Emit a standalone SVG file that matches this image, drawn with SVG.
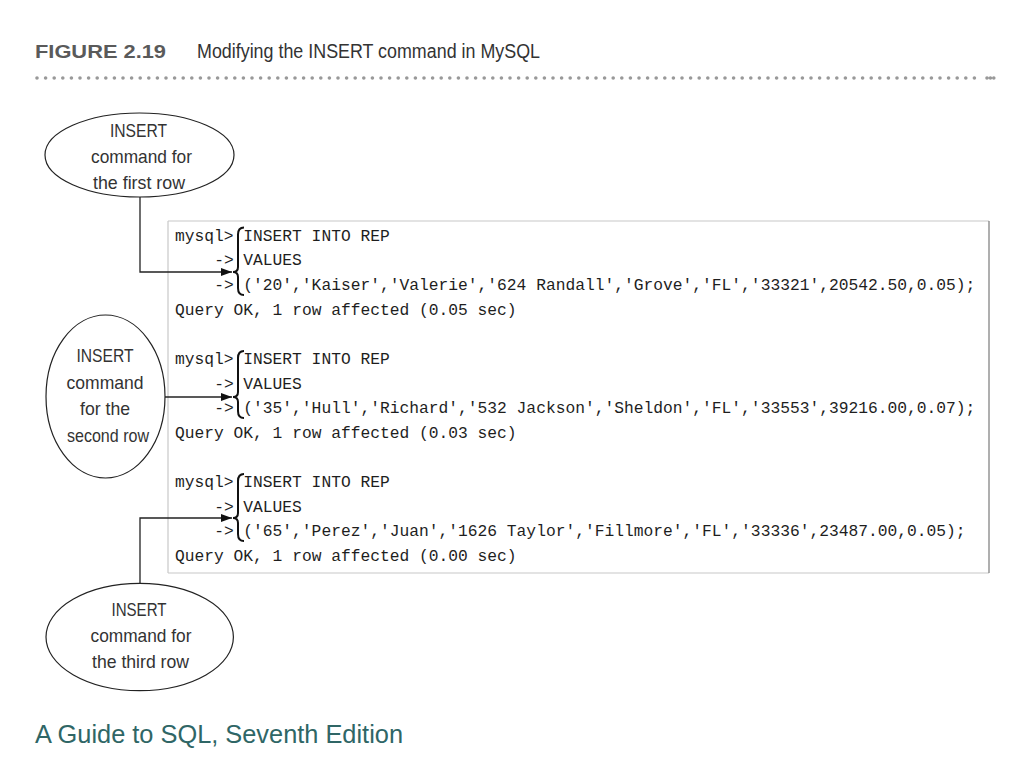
<svg xmlns="http://www.w3.org/2000/svg" width="1024" height="768" viewBox="0 0 1024 768">
<style>
.code{font-family:"Liberation Mono","Courier New",monospace;font-size:16.27px;fill:#1e1e1e}
.lbl{font-family:"Liberation Sans",Arial,sans-serif;font-size:18.5px;fill:#333;text-anchor:middle}
.ell{fill:#fff;stroke:#222;stroke-width:1.2}
.conn{fill:none;stroke:#222;stroke-width:1.3}
.brace{fill:none;stroke:#111;stroke-width:2}
</style>
<defs>
<marker id="ah" markerWidth="11" markerHeight="8" refX="11" refY="4" orient="auto" markerUnits="userSpaceOnUse">
<path d="M0,0 L11,4 L0,8 z" fill="#111"/>
</marker>
</defs>
<rect width="1024" height="768" fill="#fff"/>

<g id="title">
<text x="35" y="58" font-family="Liberation Sans,Arial,sans-serif" font-weight="bold" font-size="18" fill="#5a5a5a" textLength="131" lengthAdjust="spacingAndGlyphs">FIGURE 2.19</text>
<text x="197" y="58" font-family="Liberation Sans,Arial,sans-serif" font-size="19.5" fill="#333" textLength="343" lengthAdjust="spacingAndGlyphs">Modifying the INSERT command in MySQL</text>
<line x1="37" y1="78" x2="983" y2="78" stroke="#999" stroke-width="3.6" stroke-linecap="round" stroke-dasharray="0 8.6"/>
<line x1="987" y1="78" x2="997" y2="78" stroke="#999" stroke-width="3.6" stroke-linecap="round" stroke-dasharray="0 3.4"/>
</g>

<g id="console">
<line x1="168" y1="221" x2="989" y2="221" stroke="#c8c8c8" stroke-width="1.2"/>
<line x1="168" y1="221" x2="168" y2="573" stroke="#c8c8c8" stroke-width="1.2"/>
<line x1="168" y1="573" x2="989" y2="573" stroke="#c8c8c8" stroke-width="1.2"/>
<line x1="989" y1="221" x2="989" y2="573" stroke="#7a7a7a" stroke-width="1.2"/>

<text class="code" x="175" y="240.5">mysql&gt;</text>
<text class="code" x="243.3" y="240.5">INSERT INTO REP</text>
<text class="code" x="214.3" y="265">-&gt;</text>
<text class="code" x="243.3" y="265">VALUES</text>
<text class="code" x="214.3" y="290">-&gt;</text>
<text class="code" x="243.3" y="290">('20','Kaiser','Valerie','624 Randall','Grove','FL','33321',20542.50,0.05);</text>
<text class="code" x="175" y="314.5">Query OK, 1 row affected (0.05 sec)</text>
<path class="brace" d="M244,227.5 C240,227.5 238,229.5 238,234.5 L238,267 C238,270 236,272 233,272 C236,272 238,274 238,277 L238,288 C238,293 240,295 244,295"/>

<text class="code" x="175" y="364">mysql&gt;</text>
<text class="code" x="243.3" y="364">INSERT INTO REP</text>
<text class="code" x="214.3" y="388.5">-&gt;</text>
<text class="code" x="243.3" y="388.5">VALUES</text>
<text class="code" x="214.3" y="413">-&gt;</text>
<text class="code" x="243.3" y="413">('35','Hull','Richard','532 Jackson','Sheldon','FL','33553',39216.00,0.07);</text>
<text class="code" x="175" y="437.5">Query OK, 1 row affected (0.03 sec)</text>
<path class="brace" d="M244,351 C240,351 238,353 238,358 L238,392 C238,395 236,397 233,397 C236,397 238,399 238,402 L238,411 C238,416 240,418 244,418"/>

<text class="code" x="175" y="487">mysql&gt;</text>
<text class="code" x="243.3" y="487">INSERT INTO REP</text>
<text class="code" x="214.3" y="511.5">-&gt;</text>
<text class="code" x="243.3" y="511.5">VALUES</text>
<text class="code" x="214.3" y="536">-&gt;</text>
<text class="code" x="243.3" y="536">('65','Perez','Juan','1626 Taylor','Fillmore','FL','33336',23487.00,0.05);</text>
<text class="code" x="175" y="561">Query OK, 1 row affected (0.00 sec)</text>
<path class="brace" d="M244,474 C240,474 238,476 238,481 L238,513 C238,516 236,518 233,518 C236,518 238,520 238,523 L238,534 C238,539 240,541 244,541"/>
</g>

<g id="connectors">
<path class="conn" d="M140,197 V272 H232" marker-end="url(#ah)"/>
<path class="conn" d="M165,397 H232" marker-end="url(#ah)"/>
<path class="conn" d="M140,583 V518 H232" marker-end="url(#ah)"/>
</g>

<g id="note-first">
<ellipse class="ell" cx="139.5" cy="155" rx="94.5" ry="42"/>
<text class="lbl" x="138.5" y="136.5" textLength="57" lengthAdjust="spacingAndGlyphs">INSERT</text>
<text class="lbl" x="141.5" y="162.5" textLength="101" lengthAdjust="spacingAndGlyphs">command for</text>
<text class="lbl" x="139" y="188.5" textLength="92" lengthAdjust="spacingAndGlyphs">the first row</text>
</g>

<g id="note-second">
<ellipse class="ell" cx="105.5" cy="396.5" rx="59.5" ry="81.5"/>
<text class="lbl" x="105" y="362" textLength="57" lengthAdjust="spacingAndGlyphs">INSERT</text>
<text class="lbl" x="105" y="388.5" textLength="77" lengthAdjust="spacingAndGlyphs">command</text>
<text class="lbl" x="105" y="415" textLength="50" lengthAdjust="spacingAndGlyphs">for the</text>
<text class="lbl" x="108" y="441.5" textLength="82" lengthAdjust="spacingAndGlyphs">second row</text>
</g>

<g id="note-third">
<ellipse class="ell" cx="139.7" cy="637" rx="93.7" ry="53.7"/>
<text class="lbl" x="139" y="615.5" textLength="55" lengthAdjust="spacingAndGlyphs">INSERT</text>
<text class="lbl" x="141" y="641.5" textLength="101" lengthAdjust="spacingAndGlyphs">command for</text>
<text class="lbl" x="140.5" y="668" textLength="97" lengthAdjust="spacingAndGlyphs">the third row</text>
</g>

<g id="footer">
<text x="35" y="743" font-family="Liberation Sans,Arial,sans-serif" font-size="25.3" fill="#2f6666" textLength="368" lengthAdjust="spacingAndGlyphs">A Guide to SQL, Seventh Edition</text>
</g>
</svg>
